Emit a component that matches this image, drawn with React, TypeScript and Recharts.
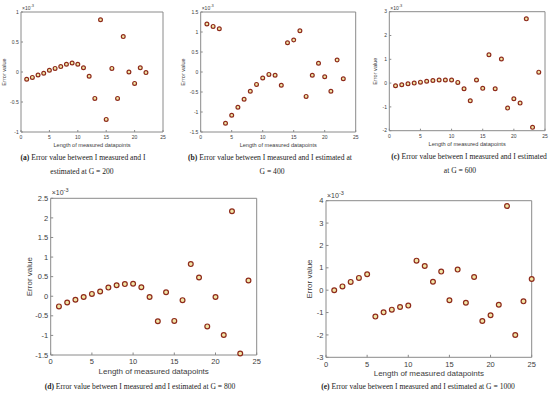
import { CartesianGrid, Scatter, ScatterChart, XAxis, YAxis } from "recharts";

// error values, in units of 1e-3, for datapoints 1..n
const errG200 = [-0.12, -0.09, -0.05, -0.02, 0.03, 0.06, 0.09, 0.13, 0.15, 0.13, 0.07, -0.07, -0.44, 0.87, -0.79, 0.06, -0.44, 0.59, 0.0, -0.19, 0.07, -0.01];
const errG400 = [1.2, 1.14, 1.08, -1.28, -1.08, -0.88, -0.68, -0.48, -0.31, -0.15, -0.06, -0.08, -0.33, 0.73, 0.8, 1.03, -0.61, -0.08, 0.22, -0.12, -0.48, 0.3, -0.17];
const errG600 = [-0.11, -0.07, -0.03, 0.0, 0.04, 0.08, 0.11, 0.13, 0.13, 0.13, 0.03, -0.24, -0.74, 0.13, -0.22, 1.19, -0.24, 1.01, -1.05, -0.66, -0.84, 2.7, -1.86, 0.46];
const errG800 = [-0.26, -0.16, -0.09, -0.02, 0.06, 0.12, 0.22, 0.28, 0.31, 0.32, 0.23, -0.02, -0.64, 0.1, -0.63, -0.1, 0.82, 0.48, -0.77, -0.02, -0.99, 2.17, -1.46, 0.4];
const errG1000 = [0.0, 0.17, 0.37, 0.55, 0.71, -1.18, -0.99, -0.87, -0.75, -0.69, 1.32, 1.08, 0.38, 0.83, -0.45, 0.92, -0.56, 0.59, -1.38, -1.12, -0.65, 3.76, -2.0, -0.5, 0.5];

const xTicks = [0, 5, 10, 15, 20, 25];
const yTicksG200 = [-1, -0.5, 0, 0.5, 1];
const yTicksG400 = [-1.5, -1, -0.5, 0, 0.5, 1, 1.5];
const yTicksG600 = [-2, -1, 0, 1, 2, 3];
const yTicksG800 = [-1.5, -1, -0.5, 0, 0.5, 1, 1.5, 2, 2.5];
const yTicksG1000 = [-3, -2, -1, 0, 1, 2, 3, 4];

const xTitle = "Length of measured datapoints";
const yTitle = "Error value";

const captionLines = [
  { tag: "(a)", text: " Error value between I measured and I", cx: 83, cy: 158 },
  { tag: "", text: "estimated at G = 200", cx: 82, cy: 172 },
  { tag: "(b)", text: " Error value between I measured and I estimated at", cx: 270, cy: 158 },
  { tag: "", text: "G = 400", cx: 272, cy: 172 },
  { tag: "(c)", text: " Error value between I measured and I estimated", cx: 469, cy: 157 },
  { tag: "", text: "at G = 600", cx: 460, cy: 171 },
  { tag: "(d)", text: " Error value between I measured and I estimated at G = 800", cx: 140, cy: 387 },
  { tag: "(e)", text: " Error value between I measured and I estimated at G = 1000", cx: 418, cy: 387 },
];

const AXIS = "#8a8a8a";
const TEXT = "#3c3c3c";
const SANS = "'Liberation Sans', Arial, sans-serif";

type PanelProps = {
  values: number[];
  yTicks: number[];
  // outer box and plot area, page coords
  left: number;
  top: number;
  width: number;
  height: number;
  plot: [number, number, number, number];
  small: boolean;
  yTitleX: number;
};

function Panel({ values, yTicks, left, top, width, height, plot, small, yTitleX }: PanelProps) {
  const [px0, py0, px1, py1] = plot;
  const data = values.map((v, i) => ({ x: i + 1, y: v }));
  const yMin = yTicks[0];
  const yMax = yTicks[yTicks.length - 1];
  const tickFs = small ? 5 : 7.5;
  const titleFs = small ? 5.6 : 8;
  const tickIn = small ? -2 : -2.5;
  const r = small ? 1.9 : 2.4;
  const tickStyle = { fill: TEXT, fontSize: tickFs, fontFamily: SANS };
  const titleStyle = { fill: TEXT, fontSize: titleFs, fontFamily: SANS, textAnchor: "middle" as const };

  return (
    <div style={{ position: "absolute", left, top }}>
      <ScatterChart
        width={width}
        height={height}
        margin={{ top: py0 - top, right: left + width - px1, left: 0, bottom: 0 }}
      >
        {/* top and right edges of the axes box */}
        <CartesianGrid
          horizontalValues={[yMax]}
          verticalValues={[25]}
          stroke={AXIS}
          strokeWidth={1}
        />
        <XAxis
          dataKey="x"
          type="number"
          domain={[0, 25]}
          ticks={xTicks}
          height={top + height - py1}
          stroke={AXIS}
          tickSize={tickIn}
          tickMargin={small ? 5.5 : 6.5}
          tick={tickStyle}
          interval={0}
          label={{ value: xTitle, position: "insideTop", offset: small ? 11.5 : 13.5, style: titleStyle }}
        />
        <YAxis
          dataKey="y"
          type="number"
          domain={[yMin, yMax]}
          ticks={yTicks}
          width={px0 - left}
          stroke={AXIS}
          tickSize={tickIn}
          tickMargin={small ? 4.3 : 5}
          tick={tickStyle}
          interval={0}
          label={{ value: yTitle, angle: -90, position: "insideLeft", offset: yTitleX - left, style: titleStyle }}
        />
        <Scatter
          data={data}
          isAnimationActive={false}
          shape={(p: any) => (
            <circle cx={p.cx} cy={p.cy} r={r} fill="#f1e6a6" stroke="#8e2a1b" strokeWidth={1.2} />
          )}
        />
      </ScatterChart>
      <div
        style={{
          position: "absolute",
          left: px0 - left + 1,
          top: py0 - top - (small ? 8 : 10),
          fontFamily: SANS,
          fontSize: small ? 5 : 7,
          color: TEXT,
          whiteSpace: "nowrap",
          lineHeight: 1,
        }}
      >
        ×10<sup style={{ fontSize: small ? 4 : 5.5 }}>-3</sup>
      </div>
    </div>
  );
}

export default function App() {
  return (
    <div style={{ position: "absolute", left: 0, top: 0, width: 550, height: 398, background: "#fff", overflow: "hidden" }}>
      <Panel values={errG200} yTicks={yTicksG200} left={0} top={0} width={185} height={150} plot={[21, 12, 163, 132]} small yTitleX={4} />
      <Panel values={errG400} yTicks={yTicksG400} left={180} top={0} width={185} height={150} plot={[200.7, 12, 355.7, 132]} small yTitleX={183} />
      <Panel values={errG600} yTicks={yTicksG600} left={365} top={0} width={185} height={150} plot={[389.3, 11.7, 545, 130.7]} small yTitleX={375} />
      <Panel values={errG800} yTicks={yTicksG800} left={0} top={180} width={275} height={201} plot={[50.7, 198.3, 256.7, 355]} small={false} yTitleX={29} />
      <Panel values={errG1000} yTicks={yTicksG1000} left={275} top={180} width={275} height={201} plot={[326, 200.7, 531.7, 357.3]} small={false} yTitleX={309} />
      {captionLines.map((c, i) => (
        <div
          key={i}
          style={{
            position: "absolute",
            left: c.cx,
            top: c.cy,
            transform: "translate(-50%, -50%)",
            whiteSpace: "nowrap",
            fontFamily: "'Liberation Serif', 'Times New Roman', serif",
            fontSize: 7.6,
            color: "#222",
            lineHeight: 1,
          }}
        >
          {c.tag && <b>{c.tag}</b>}
          {c.text}
        </div>
      ))}
    </div>
  );
}
